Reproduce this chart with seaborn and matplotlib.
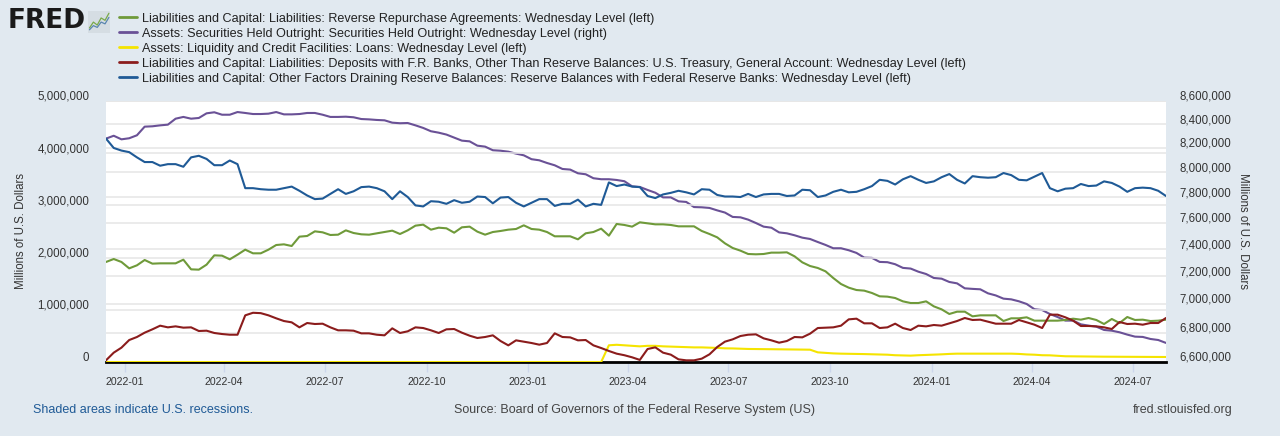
import numpy as np
import pandas as pd
import matplotlib
matplotlib.use('Agg')
import matplotlib.pyplot as plt
import matplotlib.ticker as mticker
from matplotlib.transforms import ScaledTranslation
import seaborn as sns

# weekly (Wednesday) levels, in trillions of dollars -> x1e6 gives millions
start_date = '2021-12-15'

reserves = [4.28, 4.10, 4.05, 4.02, 3.92, 3.83, 3.83, 3.76, 3.79, 3.79, 3.74, 3.92, 3.95, 3.89, 3.77, 3.77, 3.86, 3.79,
            3.33, 3.33, 3.31, 3.30, 3.30, 3.33, 3.36, 3.28, 3.19, 3.12, 3.13, 3.22, 3.31, 3.22, 3.27, 3.35, 3.36,
            3.33, 3.27, 3.12, 3.27, 3.16, 3.00, 2.98, 3.08, 3.07, 3.03, 3.10, 3.05, 3.07, 3.17, 3.16, 3.04, 3.15,
            3.16, 3.05, 2.98, 3.05, 3.12, 3.12, 2.99, 3.03, 3.03, 3.11, 2.98, 3.03, 3.01, 3.44, 3.37, 3.40, 3.36, 3.35,
            3.18, 3.14, 3.21, 3.24, 3.28, 3.25, 3.21, 3.31, 3.30, 3.20, 3.17, 3.17, 3.16, 3.22, 3.16, 3.21, 3.22,
            3.22, 3.18, 3.19, 3.30, 3.29, 3.16, 3.19, 3.26, 3.30, 3.25, 3.26, 3.31, 3.37, 3.49, 3.47, 3.40, 3.50, 3.56,
            3.49, 3.43, 3.46, 3.54, 3.60, 3.49, 3.42, 3.56, 3.54, 3.53, 3.54, 3.62, 3.58, 3.49, 3.48, 3.55, 3.62,
            3.33, 3.27, 3.32, 3.33, 3.41, 3.37, 3.38, 3.46, 3.43, 3.36, 3.26, 3.33, 3.34, 3.33, 3.28, 3.18]

securities = [8.278, 8.302, 8.272, 8.281, 8.306, 8.379, 8.382, 8.390, 8.396, 8.447, 8.462, 8.447, 8.453, 8.493,
              8.502, 8.481, 8.481, 8.504, 8.496, 8.487, 8.487, 8.490, 8.504, 8.484, 8.484, 8.487, 8.496, 8.496,
              8.481, 8.462, 8.462, 8.464, 8.459, 8.444, 8.441,
              8.436, 8.433, 8.413, 8.408, 8.410, 8.390, 8.368, 8.340, 8.328, 8.312, 8.286, 8.261, 8.255, 8.219,
              8.211, 8.181, 8.177, 8.169, 8.153, 8.139, 8.107, 8.098, 8.076, 8.057, 8.027, 8.022, 7.992, 7.984,
              7.952, 7.944, 7.944, 7.938, 7.928, 7.887, 7.882,
              7.858, 7.836, 7.799, 7.799, 7.768, 7.763, 7.723, 7.721, 7.716, 7.697, 7.680, 7.646, 7.643, 7.625,
              7.599, 7.571, 7.563, 7.527, 7.520, 7.505, 7.487, 7.477, 7.454, 7.432, 7.407, 7.407, 7.392, 7.372,
              7.337, 7.335, 7.305, 7.303, 7.288, 7.261, 7.256,
              7.233, 7.216, 7.187, 7.182, 7.158, 7.148, 7.112, 7.108, 7.105, 7.076, 7.061, 7.038, 7.033, 7.019,
              7.000, 6.963, 6.957, 6.929, 6.908, 6.883, 6.883, 6.857, 6.848, 6.841, 6.818, 6.813, 6.802, 6.786,
              6.772, 6.770, 6.756, 6.749, 6.729]

rrp = [1.916, 1.973, 1.916, 1.794, 1.852, 1.954, 1.884, 1.890, 1.890, 1.890, 1.960, 1.775, 1.769, 1.865, 2.043,
       2.037, 1.967, 2.056, 2.152, 2.082, 2.082, 2.152, 2.241, 2.254, 2.222, 2.401, 2.414, 2.503, 2.484, 2.433,
       2.439, 2.522, 2.471, 2.446, 2.439,
       2.465, 2.490, 2.516, 2.452, 2.522, 2.612, 2.631, 2.535, 2.573, 2.561, 2.477, 2.580, 2.593, 2.497, 2.439,
       2.490, 2.510, 2.535, 2.548, 2.618, 2.548, 2.535, 2.490, 2.408, 2.408, 2.408, 2.350, 2.465, 2.490, 2.554,
       2.420, 2.644, 2.625, 2.593, 2.676,
       2.657, 2.637, 2.637, 2.625, 2.599, 2.599, 2.599, 2.510, 2.452, 2.388, 2.273, 2.184, 2.133, 2.069, 2.063,
       2.069, 2.095, 2.095, 2.101, 2.024, 1.909, 1.839, 1.801, 1.737, 1.609, 1.494, 1.424, 1.379, 1.367, 1.322,
       1.258, 1.252, 1.226, 1.162, 1.130,
       1.130, 1.162, 1.066, 1.009, 0.920, 0.964, 0.964, 0.875, 0.894, 0.894, 0.894, 0.785, 0.837, 0.837, 0.856,
       0.792, 0.792, 0.792, 0.792, 0.805, 0.830, 0.811, 0.843, 0.805, 0.728, 0.824, 0.747, 0.862, 0.805, 0.811,
       0.785, 0.792, 0.811]

tga = [0.032, 0.179, 0.275, 0.421, 0.479, 0.562, 0.626, 0.696, 0.664, 0.683, 0.658, 0.664, 0.594, 0.600, 0.556,
       0.536, 0.523, 0.523, 0.894, 0.943, 0.936, 0.894, 0.837, 0.785, 0.760, 0.664, 0.747, 0.728, 0.734, 0.664,
       0.607, 0.607, 0.600, 0.549, 0.549,
       0.523, 0.511, 0.645, 0.556, 0.588, 0.664, 0.651, 0.607, 0.556, 0.626, 0.632, 0.562, 0.504, 0.460, 0.479,
       0.511, 0.402, 0.319, 0.415, 0.390, 0.364, 0.332, 0.364, 0.549, 0.479, 0.472, 0.415, 0.421, 0.319, 0.268,
       0.211, 0.160, 0.130, 0.090, 0.040,
       0.249, 0.281, 0.179, 0.141, 0.051, 0.032, 0.032, 0.064, 0.147, 0.287, 0.390, 0.434, 0.498, 0.523, 0.530,
       0.453, 0.415, 0.370, 0.402, 0.479, 0.472, 0.543, 0.651, 0.658, 0.664, 0.696, 0.817, 0.830, 0.741, 0.741,
       0.651, 0.664, 0.734, 0.651, 0.613,
       0.696, 0.683, 0.709, 0.696, 0.741, 0.785, 0.843, 0.805, 0.811, 0.773, 0.734, 0.734, 0.734, 0.805, 0.760,
       0.715, 0.651, 0.907, 0.907, 0.856, 0.792, 0.690, 0.690, 0.683, 0.664, 0.632, 0.766, 0.728, 0.734, 0.715,
       0.747, 0.747, 0.843]

loans = [0, 0, 0, 0, 0, 0, 0, 0, 0, 0, 0, 0, 0,
         0, 0, 0, 0, 0, 0, 0, 0, 0, 0, 0, 0, 0,
         0, 0, 0, 0, 0, 0, 0, 0, 0, 0, 0, 0, 0,
         0, 0, 0, 0, 0, 0, 0, 0, 0, 0, 0, 0, 0,
         0, 0, 0, 0, 0, 0, 0, 0, 0, 0, 0, 0, 0,
         0.32, 0.33, 0.32, 0.31, 0.30, 0.31, 0.31, 0.30, 0.295, 0.29, 0.285, 0.28, 0.28, 0.275, 0.27,
         0.262, 0.26, 0.255, 0.25, 0.249, 0.247, 0.245, 0.243, 0.242, 0.24, 0.238, 0.236, 0.185, 0.175, 0.165,
         0.16, 0.158, 0.155, 0.152, 0.148, 0.145, 0.14, 0.13, 0.125, 0.122, 0.13, 0.135, 0.14, 0.147, 0.155,
         0.16, 0.16, 0.16, 0.16, 0.16, 0.16, 0.16, 0.16, 0.155, 0.145, 0.14, 0.13, 0.128, 0.12, 0.11,
         0.108, 0.106, 0.104, 0.103, 0.102, 0.101, 0.100, 0.099, 0.098, 0.098, 0.097, 0.097, 0.096]

labels = {
    'rrp': 'Liabilities and Capital: Liabilities: Reverse Repurchase Agreements: Wednesday Level (left)',
    'securities': 'Assets: Securities Held Outright: Securities Held Outright: Wednesday Level (right)',
    'loans': 'Assets: Liquidity and Credit Facilities: Loans: Wednesday Level (left)',
    'tga': 'Liabilities and Capital: Liabilities: Deposits with F.R. Banks, Other Than Reserve Balances: '
           'U.S. Treasury, General Account: Wednesday Level (left)',
    'reserves': 'Liabilities and Capital: Other Factors Draining Reserve Balances: '
                'Reserve Balances with Federal Reserve Banks: Wednesday Level (left)',
}
colors = {'rrp': '#6f9a3a', 'securities': '#6a5196', 'loans': '#f5e400', 'tga': '#8b1c1c', 'reserves': '#1f5a96'}

left_ticks = [0, 1000000, 2000000, 3000000, 4000000, 5000000]
right_ticks = [6600000, 6800000, 7000000, 7200000, 7400000, 7600000, 7800000, 8000000, 8200000, 8400000, 8600000]
x_ticks = ['2022-01', '2022-04', '2022-07', '2022-10', '2023-01', '2023-04',
           '2023-07', '2023-10', '2024-01', '2024-04', '2024-07']

sns.set_theme(style='white')
plt.rcParams['font.family'] = ['Liberation Sans', 'DejaVu Sans']

df = pd.DataFrame({
    'date': pd.date_range(start_date, periods=len(reserves), freq='7D'),
    'rrp': np.array(rrp) * 1e6,
    'securities': np.array(securities) * 1e6,
    'loans': np.array(loans) * 1e6,
    'tga': np.array(tga) * 1e6,
    'reserves': np.array(reserves) * 1e6,
})

bg = '#e1e9f0'
fig = plt.figure(figsize=(12.8, 4.36), dpi=100, facecolor=bg)
ax2 = fig.add_axes([0.0828, 0.1697, 0.8281, 0.5987])
ax = ax2.twinx()
ax.set_zorder(ax2.get_zorder() + 1)
ax.patch.set_visible(False)
ax2.set_facecolor('white')

# left axis: linear, right axis: log
ax.yaxis.set_label_position('left')
ax.yaxis.tick_left()
ax2.yaxis.set_label_position('right')
ax2.yaxis.tick_right()

lw = 1.5
for key in ['rrp', 'loans', 'tga', 'reserves']:
    sns.lineplot(data=df, x='date', y=key, ax=ax, color=colors[key], linewidth=lw, zorder=3)
sns.lineplot(data=df, x='date', y='securities', ax=ax2, color=colors['securities'], linewidth=lw, zorder=3)

ax2.set_yscale('log')
ax2.set_ylim(right_ticks[0], right_ticks[-1])
ax2.yaxis.set_major_locator(mticker.FixedLocator(right_ticks))
ax2.yaxis.set_minor_locator(mticker.NullLocator())
ax2.yaxis.set_major_formatter(mticker.FuncFormatter(lambda v, p: f'{v:,.0f}'))

ax.set_ylim(left_ticks[0], left_ticks[-1])
ax.yaxis.set_major_locator(mticker.FixedLocator(left_ticks))
ax.yaxis.set_major_formatter(mticker.FuncFormatter(lambda v, p: f'{v:,.0f}'))

ax2.set_xlim(df['date'].iloc[0], df['date'].iloc[-1])
ax2.set_xticks(pd.to_datetime(x_ticks))
ax2.set_xticklabels(x_ticks)

for a in (ax, ax2):
    for s in a.spines.values():
        s.set_visible(False)
    a.set_xlabel('')
ax.grid(axis='y', color='#e6e6e6', linewidth=1.1, zorder=0)
ax2.grid(axis='y', color='#e6e6e6', linewidth=1.1, zorder=0)
ax2.grid(axis='x', visible=False)
ax.set_axisbelow(True)
ax2.set_axisbelow(True)

ax.spines['bottom'].set_visible(True)
ax.spines['bottom'].set_color('black')
ax.spines['bottom'].set_linewidth(2)
ax.tick_params(axis='x', bottom=False, labelbottom=False)
ax2.tick_params(axis='x', bottom=True, length=7, width=1, color='#ccd6eb', pad=4,
                labelsize=7.6, labelcolor='#333333')
ax.tick_params(axis='y', length=0, pad=12, labelsize=8.3, labelcolor='#333333')
ax2.tick_params(axis='y', length=0, pad=10, labelsize=8.3, labelcolor='#333333')

ax.set_ylabel('Millions of U.S. Dollars', fontsize=8.3, color='#333333')
ax2.set_ylabel('Millions of U.S. Dollars', fontsize=8.3, color='#333333', rotation=270)
ax.yaxis.set_label_coords(-0.0745, 0.5)
ax2.yaxis.set_label_coords(1.078, 0.5)

# FRED draws value labels slightly above their grid lines
shift = ScaledTranslation(0, 4 / 72, fig.dpi_scale_trans)
for a in (ax, ax2):
    for lbl in a.get_yticklabels():
        lbl.set_transform(lbl.get_transform() + shift)

# legend
handles = [plt.Line2D([], [], color=colors[k], linewidth=2) for k in labels]
fig.legend(handles, list(labels.values()), loc='upper left', bbox_to_anchor=(0.084, 0.997),
           frameon=False, fontsize=9.1, handlelength=1.4, handletextpad=0.45,
           labelspacing=0.24, borderaxespad=0.5, labelcolor='#222222')

# FRED logo
fig.text(0.006, 0.952, 'FRED', fontsize=19, fontweight='heavy', color='#1a1a1a',
         family=['DejaVu Sans'], va='center', ha='left')
icon = fig.add_axes([0.069, 0.925, 0.017, 0.05])
icon.set_facecolor('#d5dde3')
icon.plot([0, 1, 2, 3, 4, 5], [0.5, 1.5, 1.0, 2.2, 1.8, 3.0], color='#79a94a', lw=0.9)
icon.plot([0, 1, 2, 3, 4, 5], [0.2, 0.9, 0.6, 1.5, 1.2, 2.3], color='#5a86b0', lw=0.9)
icon.set_xlim(-0.3, 5.3)
icon.set_ylim(-0.3, 3.4)
icon.set_xticks([])
icon.set_yticks([])
for s in icon.spines.values():
    s.set_visible(False)

# footer
fig.text(0.026, 0.059, 'Shaded areas indicate U.S. recessions.', fontsize=9, color='#1f5a96', va='center')
fig.text(0.496, 0.059, 'Source: Board of Governors of the Federal Reserve System (US)', fontsize=9,
         color='#444444', va='center', ha='center')
fig.text(0.963, 0.059, 'fred.stlouisfed.org', fontsize=9, color='#444444', va='center', ha='right')

fig.savefig('out.png', dpi=100, facecolor=bg)
